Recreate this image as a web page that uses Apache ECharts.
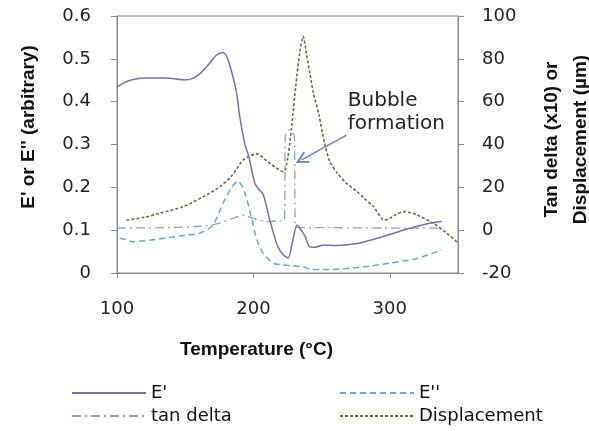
<!DOCTYPE html>
<html>
<head>
<meta charset="utf-8">
<script src="https://cdn.jsdelivr.net/npm/echarts@6/dist/echarts.min.js"></script>
<style>
  html, body { margin: 0; padding: 0; background: #fff; }
  #chart { width: 589px; height: 431px; }
</style>
</head>
<body>
<div id="chart"></div>
<script>
// Storage modulus E' (left axis, arbitrary units)
var ePrimeTemp = [100,105,111,120,135,151,156,161,168,173,178,181.5,185,187.7,190,193.8,196.7,201,204,207,210,212,215,218,222,225.5,228.5,232,235,238,241,245,251,260,276,295,312,329,338];
var ePrimeVal  = [0.434,0.444,0.451,0.455,0.455,0.451,0.455,0.466,0.49,0.509,0.514,0.497,0.458,0.42,0.365,0.30,0.271,0.21,0.195,0.185,0.15,0.124,0.09,0.061,0.042,0.035,0.07,0.112,0.100,0.085,0.062,0.060,0.065,0.064,0.069,0.085,0.102,0.116,0.121];

// Loss modulus E'' (left axis)
var eDoubleTemp = [102,106,111.7,125,136.6,150,160.8,170.3,177.7,184,188.6,193.8,198.9,202.6,207,214.3,221.6,228,236.3,243.6,255,270.7,285,300,320,338];
var eDoubleVal  = [0.081,0.078,0.073,0.077,0.082,0.088,0.093,0.112,0.163,0.2,0.215,0.187,0.124,0.077,0.047,0.023,0.019,0.017,0.014,0.008,0.008,0.011,0.016,0.023,0.034,0.054];

// tan delta x10 (right axis)
var tanDeltaTemp = [100,140,165,175,185,192,200,210,220,222.8,223.4,226.5,230,231,250,300,338];
var tanDeltaVal  = [1.0,1.2,2.0,3.3,5.5,7.0,5.5,4.0,4.5,5.0,44,47,44,1.5,1.2,1.0,1.0];

// Displacement in µm (right axis)
var dispTemp = [107,120,131.5,148.6,163.2,175.5,185,192.5,202.3,212,222,225,228,231,234,236.5,239,241.5,244,248,252,256,261,268,276,281,288,296,300,305,310,315,320,332,341,350];
var dispVal  = [4.7,6.0,7.9,11,15.6,20.3,26,32.8,35.6,31.2,27.3,33,48,67,83,90.5,82,73,64,54,41,32,27,22,18,15,11,4.7,5.5,7.5,8.6,8.2,7.1,3.2,-1,-6];

// Axis ranges and tick steps
var xTicks = { min: 100, max: 350, step: 100 };
var leftTicks = { min: 0, max: 0.6, step: 0.1 };
var rightTicks = { min: -20, max: 100, step: 20 };

// Callout pointing at the onset of bubbling
var calloutText = 'Bubble\nformation';
var calloutAnchor = [269.2, 65.9];
var arrowFrom = [268.3, 44.4];
var arrowTo = [235.3, 32.8];

function pairs(xs, ys) {
  return xs.map(function (x, i) { return [x, ys[i]]; });
}

var tickFont = { fontFamily: 'DejaVu Sans', fontSize: 18, color: '#222' };
var titleFont = { fontFamily: 'Liberation Sans', fontSize: 19, fontWeight: 'bold', color: '#111' };
var axisGray = '#8c8c8c';

var colors = {
  ePrime: '#7a6eae',
  eDouble: '#5eaed0',
  tanDelta: '#8ba2c0',
  disp: '#6f6b3e'
};

// open "V" arrow head, tip pointing up before rotation
var openArrowHead = 'path://M5,0 L10,9 L8.6,9.6 L5,3.2 L1.4,9.6 L0,9 Z';

function legendAt(name, left, top) {
  return {
    data: [name],
    left: left,
    top: top,
    orient: 'horizontal',
    itemWidth: 74,
    itemHeight: 12,
    itemGap: 8,
    // line sample only, no marker dot
    itemStyle: { color: 'rgba(0,0,0,0)', borderColor: 'rgba(0,0,0,0)', borderWidth: 0, opacity: 0 },
    textStyle: { fontFamily: 'DejaVu Sans', fontSize: 18, color: '#111' },
    selectedMode: false
  };
}

var chart = echarts.init(document.getElementById('chart'), null, { renderer: 'canvas' });

chart.setOption({
  animation: false,
  backgroundColor: '#ffffff',
  grid: {
    left: 117, right: 131, top: 16, bottom: 158,
    outerBoundsMode: 'none',
    containLabel: false,
    show: true, borderColor: axisGray, borderWidth: 1, backgroundColor: 'transparent'
  },
  legend: [
    legendAt("E'", 66, 379),
    legendAt("E''", 334, 379),
    legendAt('tan delta', 66, 402),
    legendAt('Displacement', 334, 402)
  ],
  xAxis: {
    type: 'value',
    min: xTicks.min, max: xTicks.max, interval: xTicks.step,
    name: 'Temperature (°C)',
    nameLocation: 'middle',
    nameGap: 67,
    nameTextStyle: Object.assign({ padding: [0, 62, 0, 0] }, titleFont),
    axisLine: { show: true, lineStyle: { color: axisGray } },
    axisTick: { show: true, length: 5, lineStyle: { color: axisGray } },
    axisLabel: Object.assign({ margin: 27, showMaxLabel: false }, tickFont),
    splitLine: { show: false }
  },
  yAxis: [
    {
      type: 'value',
      position: 'left',
      min: leftTicks.min, max: leftTicks.max, interval: leftTicks.step,
      name: "E' or E'' (arbitrary)",
      nameLocation: 'middle',
      nameRotate: 90,
      nameGap: 79,
      nameTextStyle: Object.assign({ padding: [0, 0, 0, 35] }, titleFont),
      axisLine: { show: true, lineStyle: { color: axisGray } },
      axisTick: { show: true, length: 6, lineStyle: { color: axisGray } },
      axisLabel: Object.assign({ margin: 26 }, tickFont),
      splitLine: { show: false }
    },
    {
      type: 'value',
      position: 'right',
      min: rightTicks.min, max: rightTicks.max, interval: rightTicks.step,
      name: 'Tan delta (x10) or\nDisplacement (µm)',
      nameLocation: 'middle',
      nameRotate: 90,
      nameGap: 79,
      nameTextStyle: Object.assign({ padding: [0, 0, 0, 10], lineHeight: 29 }, titleFont),
      axisLine: { show: true, lineStyle: { color: axisGray } },
      axisTick: { show: true, length: 6, lineStyle: { color: axisGray } },
      axisLabel: Object.assign({ margin: 24 }, tickFont),
      splitLine: { show: false }
    }
  ],
  series: [
    {
      name: "E'",
      type: 'line',
      yAxisIndex: 0,
      data: pairs(ePrimeTemp, ePrimeVal),
      showSymbol: false, symbol: 'none',
      smooth: 0.25,
      lineStyle: { color: colors.ePrime, width: 1.5, type: 'solid' },
      itemStyle: { color: colors.ePrime },
      z: 5
    },
    {
      name: "E''",
      type: 'line',
      yAxisIndex: 0,
      data: pairs(eDoubleTemp, eDoubleVal),
      showSymbol: false, symbol: 'none',
      smooth: 0.25,
      lineStyle: { color: colors.eDouble, width: 1.5, type: [6, 4] },
      itemStyle: { color: colors.eDouble },
      z: 4
    },
    {
      name: 'tan delta',
      type: 'line',
      yAxisIndex: 1,
      data: pairs(tanDeltaTemp, tanDeltaVal),
      showSymbol: false, symbol: 'none',
      smooth: 0.15,
      lineStyle: { color: colors.tanDelta, width: 1.3, type: [9, 4, 2, 4] },
      itemStyle: { color: colors.tanDelta },
      z: 3
    },
    {
      name: 'Displacement',
      type: 'line',
      yAxisIndex: 1,
      data: pairs(dispTemp, dispVal),
      showSymbol: false, symbol: 'none',
      smooth: 0.25,
      lineStyle: { color: colors.disp, width: 1.6, type: [3, 2] },
      itemStyle: { color: colors.disp },
      z: 3,
      markPoint: {
        silent: true,
        symbol: 'circle',
        symbolSize: 0,
        data: [{ coord: calloutAnchor, value: 0 }],
        label: {
          show: true,
          position: [0, 0],
          align: 'left',
          verticalAlign: 'top',
          formatter: calloutText,
          fontFamily: 'DejaVu Sans',
          fontSize: 20,
          lineHeight: 23,
          color: '#222'
        }
      },
      markLine: {
        silent: true,
        symbol: ['none', openArrowHead],
        symbolSize: [13, 13],
        symbolOffset: [0, 0],
        label: { show: false },
        itemStyle: { color: '#6a8cbf' },
        lineStyle: { color: '#6a8cbf', width: 1.6, type: 'solid' },
        data: [[{ coord: arrowFrom }, { coord: arrowTo }]]
      }
    }
  ]
});
</script>
</body>
</html>
